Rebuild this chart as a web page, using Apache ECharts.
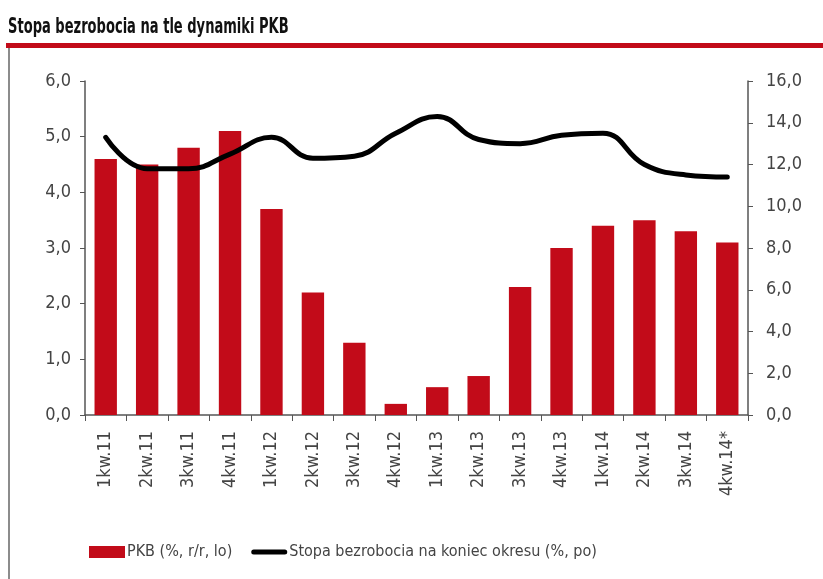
<!DOCTYPE html>
<html>
<head>
<meta charset="utf-8">
<script src="https://cdn.jsdelivr.net/npm/echarts@6/dist/echarts.min.js"></script>
<style>
  html, body { margin: 0; padding: 0; background: #fff; }
  #chart { width: 823px; height: 579px; }
</style>
</head>
<body>
<div id="chart"></div>
<script>
// kwartaly
var categories = ['1kw.11', '2kw.11', '3kw.11', '4kw.11', '1kw.12', '2kw.12', '3kw.12', '4kw.12',
    '1kw.13', '2kw.13', '3kw.13', '4kw.13', '1kw.14', '2kw.14', '3kw.14', '4kw.14*'];

// PKB (%, r/r) - lewa os
var gdpValues = [4.6, 4.5, 4.8, 5.1, 3.7, 2.2, 1.3, 0.2, 0.5, 0.7, 2.3, 3.0, 3.4, 3.5, 3.3, 3.1];

// stopa bezrobocia (%) - prawa os
var unemploymentValues = [13.3, 11.8, 11.8, 12.5, 13.3, 12.3, 12.4, 13.5, 14.3, 13.2, 13.0, 13.4, 13.5, 12.0, 11.5, 11.4];

var leftTicks = { min: 0, max: 6, interval: 1 };
var rightTicks = { min: 0, max: 16, interval: 2 };

var font = "'DejaVu Sans Condensed', 'DejaVu Sans', sans-serif";
var textColor = '#444';
var axisColor = '#555';
var red = '#c20b19';

// thick rounded line as legend icon (tiny corner dots keep the 36x12 box)
var lineIcon = 'path://M0,0L0.05,0L0.05,0.05L0,0.05Z' +
    'M2.5,3.5L33.5,3.5A2.5,2.5 0 0 1 33.5,8.5L2.5,8.5A2.5,2.5 0 0 1 2.5,3.5Z' +
    'M35.95,11.95L36,11.95L36,12L35.95,12Z';

function commaFmt(v) {
    return v.toFixed(1).replace('.', ',');
}

var chart = echarts.init(document.getElementById('chart'));

var option = {
    animation: false,
    backgroundColor: '#fff',
    graphic: [
        {
            type: 'text',
            x: 8,
            y: 16,
            scaleX: 0.66,
            style: {
                text: 'Stopa bezrobocia na tle dynamiki PKB',
                font: 'bold 22px ' + font,
                fill: '#111'
            }
        },
        { type: 'rect', shape: { x: 6, y: 43, width: 817, height: 5 }, style: { fill: red } },
        { type: 'rect', shape: { x: 8, y: 48, width: 2, height: 531 }, style: { fill: '#8c8c8c' } }
    ],
    grid: { left: 85, right: 75, top: 81, bottom: 164 },
    legend: {
        left: 89,
        top: 544,
        padding: 0,
        itemGap: 19,
        itemWidth: 36,
        itemHeight: 12,
        textStyle: { fontFamily: font, fontSize: 16, color: textColor, padding: [0, 0, 0, -3] },
        data: [
            { name: 'PKB (%, r/r, lo)', icon: 'rect' },
            { name: 'Stopa bezrobocia na koniec okresu (%, po)', icon: lineIcon, itemStyle: { color: '#000' } }
        ]
    },
    xAxis: {
        type: 'category',
        data: categories,
        boundaryGap: true,
        axisLine: { lineStyle: { color: axisColor, width: 1.5 } },
        axisTick: { show: true, length: 6, lineStyle: { color: axisColor } },
        axisLabel: { rotate: 90, margin: 16, fontFamily: font, fontSize: 18, color: textColor }
    },
    yAxis: [
        {
            type: 'value',
            position: 'left',
            min: leftTicks.min,
            max: leftTicks.max,
            interval: leftTicks.interval,
            splitLine: { show: false },
            axisLine: { show: true, lineStyle: { color: axisColor, width: 1.5 } },
            axisTick: { show: true, length: 5, lineStyle: { color: axisColor } },
            axisLabel: { margin: 14, fontFamily: font, fontSize: 18, color: textColor, formatter: commaFmt }
        },
        {
            type: 'value',
            position: 'right',
            min: rightTicks.min,
            max: rightTicks.max,
            interval: rightTicks.interval,
            splitLine: { show: false },
            axisLine: { show: true, lineStyle: { color: axisColor, width: 1.5 } },
            axisTick: { show: true, length: 5, lineStyle: { color: axisColor } },
            axisLabel: { margin: 18, fontFamily: font, fontSize: 18, color: textColor, formatter: commaFmt }
        }
    ],
    series: [
        {
            name: 'PKB (%, r/r, lo)',
            type: 'bar',
            yAxisIndex: 0,
            data: gdpValues,
            barWidth: '54%',
            itemStyle: { color: red }
        },
        {
            name: 'Stopa bezrobocia na koniec okresu (%, po)',
            type: 'line',
            yAxisIndex: 1,
            data: unemploymentValues,
            smooth: 0.45,
            symbol: 'none',
            lineStyle: { color: '#000', width: 5, cap: 'round' },
            itemStyle: { color: '#000' }
        }
    ]
};

chart.setOption(option);
</script>
</body>
</html>
